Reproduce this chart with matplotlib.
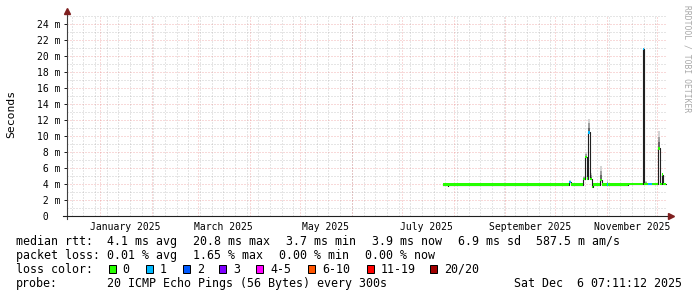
import numpy as np
import pandas as pd
import matplotlib
matplotlib.use('Agg')
import matplotlib.pyplot as plt
import matplotlib.dates as mdates
from matplotlib.patches import Rectangle

# median rtt steps (start of each step), value in ms, lost pings of 20, top of smoke
seg_start = [
    "2025-07-25 16:00", "2025-07-28 09:00", "2025-07-28 22:00",
    "2025-10-09 05:00", "2025-10-10 03:00", "2025-10-17 15:00",
    "2025-10-18 22:00", "2025-10-19 18:00", "2025-10-20 12:00",
    "2025-10-21 14:00", "2025-10-22 18:00", "2025-10-23 09:00",
    "2025-10-27 19:00", "2025-10-29 07:00", "2025-10-31 17:00",
    "2025-11-01 14:00", "2025-11-13 14:00", "2025-11-22 07:00",
    "2025-11-23 05:00", "2025-11-24 02:00", "2025-11-24 19:00",
    "2025-11-25 18:00", "2025-11-27 19:00", "2025-12-01 18:00",
    "2025-12-02 13:00", "2025-12-03 21:00", "2025-12-04 16:00",
]
data_end = "2025-12-06 07:11"
median_ms = [3.85, 3.72, 3.85, 4.2, 3.85, 4.55,
             7.3, 4.6, 10.4, 4.55, 3.55, 3.85,
             4.45, 3.85, 3.85, 3.85, 3.95, 20.8,
             3.95, 3.95, 3.95, 3.95, 3.95, 8.4,
             3.95, 5.1, 3.95]
loss = [0, 0, 0, 1, 0, 0,
        0, 0, 1, 0, 0, 0,
        0, 0, 1, 0, 0, 1,
        0, 0, 0, 1, 0, 0,
        0, 0, 0]
smoke_top = [3.85, 3.72, 3.85, 4.4, 3.85, 4.9,
             7.9, 4.8, 12.1, 5.3, 3.55, 3.85,
             6.2, 3.85, 4.4, 3.85, 3.95, 20.8,
             3.95, 4.3, 3.95, 3.95, 3.95, 10.6,
             3.95, 5.3, 3.95]

loss_names = ["0", "1", "2", "3", "4-5", "6-10", "11-19", "20/20"]
loss_colors = ["#26ff00", "#00b8ff", "#0059ff", "#7e00ff",
               "#ff00ff", "#ff5500", "#ff0000", "#a00000"]
loss_upper = [0, 1, 2, 3, 5, 10, 19, 20]

month_labels = ["January 2025", "March 2025", "May 2025",
                "July 2025", "September 2025", "November 2025"]
month_label_dates = ["2025-01-16", "2025-03-16", "2025-05-16",
                     "2025-07-16", "2025-09-16", "2025-11-16"]

x_start = "2024-12-11 22:00"
x_end = "2025-12-06 16:20"
y_max = 25

MONO = "DejaVu Sans Mono"
W, H = 697, 297


def fx(px):
    return px / W


def fy(py):
    return 1 - py / H


def loss_class(n):
    for i, up in enumerate(loss_upper):
        if n <= up:
            return i
    return len(loss_upper) - 1


def main():
    t = mdates.date2num(pd.to_datetime(seg_start + [data_end]))
    starts = t[:-1]
    widths = np.diff(t)
    med = np.array(median_ms)
    top = np.array(smoke_top)

    fig = plt.figure(figsize=(W / 100, H / 100), dpi=100)
    fig.patch.set_facecolor("white")
    ax = fig.add_axes([fx(66.5), 1 - 215.5 / H, 600 / W, 200 / H])
    ax.set_xlim(mdates.date2num(pd.Timestamp(x_start)), mdates.date2num(pd.Timestamp(x_end)))
    ax.set_ylim(0, y_max)
    for s in ax.spines.values():
        s.set_visible(False)

    # grid, dotted like rrdtool
    minor_col = (0.56, 0.56, 0.56, 0.45)
    major_col = (0.87, 0.31, 0.31, 0.42)
    dots = (0, (1, 2))
    for d in pd.date_range("2024-12-15", "2025-12-06", freq="W-SUN"):
        ax.axvline(mdates.date2num(d), color=minor_col, lw=0.72, ls=dots, zorder=0)
    for d in pd.date_range("2025-01-01", "2025-12-01", freq="MS"):
        ax.axvline(mdates.date2num(d), color=major_col, lw=0.72, ls=dots, zorder=0.5)
    for v in range(1, y_max + 1):
        col = major_col if v % 2 == 0 else minor_col
        ax.axhline(v, color=col, lw=0.72, ls=dots, zorder=0.5 if v % 2 == 0 else 0)

    # smoke
    grays = ["#6a6a6a", "#a0a0a0", "#d4d4d4"]
    span = top - med
    has = span > 0.05
    for k, g in enumerate(grays):
        ax.bar(starts[has], span[has] / 3, width=widths[has], bottom=med[has] + span[has] * k / 3,
               align="edge", color=g, lw=0, zorder=2)

    # median line and loss coloured boxes
    ax.step(t, np.append(med, med[-1]), where="post", color="#202020", lw=0.8, zorder=3)
    cols = [loss_colors[loss_class(n)] for n in loss]
    ax.bar(starts, 0.3, width=widths, bottom=med - 0.15, align="edge",
           color=cols, lw=0, zorder=4)

    # ticks and labels
    ax.set_xticks(mdates.date2num(pd.to_datetime(month_label_dates)))
    ax.set_xticklabels(month_labels, family=MONO, fontsize=7)
    ax.tick_params(axis="x", length=0, pad=4.4)
    yt = list(range(0, 25, 2))
    ax.set_yticks(yt)
    ax.set_yticklabels([" 0" if v == 0 else f"{v:2d} m" for v in yt], family=MONO, fontsize=7)
    ax.tick_params(axis="y", length=2.2, width=0.72, color="#202020", pad=19.3)
    for lbl in ax.get_yticklabels():
        lbl.set_ha("left")

    # axes with arrows
    arrow_col = "#7f1f1f"
    ax.plot([0, 0], [-3.5 / 200, 1 + 6 / 200], transform=ax.transAxes,
            color="#404040", lw=0.8, clip_on=False, zorder=5)
    ax.plot([-4 / 600, 1 + 3 / 600], [0, 0], transform=ax.transAxes,
            color="#202020", lw=0.8, clip_on=False, zorder=5)
    ax.plot([0], [1 + 5 / 200], marker="^", ms=4.2, color=arrow_col,
            transform=ax.transAxes, clip_on=False, zorder=6)
    ax.plot([1 + 4 / 600], [0], marker=">", ms=4.2, color=arrow_col,
            transform=ax.transAxes, clip_on=False, zorder=6)

    fig.text(fx(11), fy(114), "Seconds", rotation=90, ha="center", va="center",
             family=MONO, fontsize=8.2)
    fig.text(fx(687), fy(5), "RRDTOOL / TOBI OETIKER", rotation=270, ha="center", va="top",
             family=MONO, fontsize=5.8, color="#a8a8a8")

    # legend block
    fs = 8.4
    rows = [
        (245, [(16.2, "median rtt:"), (107.2, "4.1 ms avg"), (192.8, "20.8 ms max"),
               (286.2, "3.7 ms min"), (372.2, "3.9 ms now"), (457.8, "6.9 ms sd"),
               (536.5, "587.5 m am/s")]),
        (259, [(16.2, "packet loss:"), (107.2, "0.01 % avg"), (192.8, "1.65 % max"),
               (278.8, "0.00 % min"), (365.2, "0.00 % now")]),
        (273, [(16.2, "loss color:")]),
        (287, [(16.2, "probe:"), (107.2, "20 ICMP Echo Pings (56 Bytes) every 300s")]),
    ]
    for base, items in rows:
        for x, s in items:
            fig.text(fx(x), fy(base), s, ha="left", va="baseline", family=MONO, fontsize=fs)
    fig.text(fx(681.5), fy(287), "Sat Dec  6 07:11:12 2025", ha="right", va="baseline",
             family=MONO, fontsize=fs)

    box_x = [108.7, 145.7, 182.7, 219.3, 256.0, 308.3, 366.7, 430.0]
    for bx, name, c in zip(box_x, loss_names, loss_colors):
        fig.patches.append(Rectangle((fx(bx), fy(273.3)), 7 / W, 8 / H, transform=fig.transFigure,
                                     facecolor=c, edgecolor="black", lw=0.72))
        fig.text(fx(bx + 14), fy(273), name, ha="left", va="baseline", family=MONO, fontsize=fs)

    fig.savefig("out.png", dpi=100, facecolor="white")


if __name__ == "__main__":
    main()
